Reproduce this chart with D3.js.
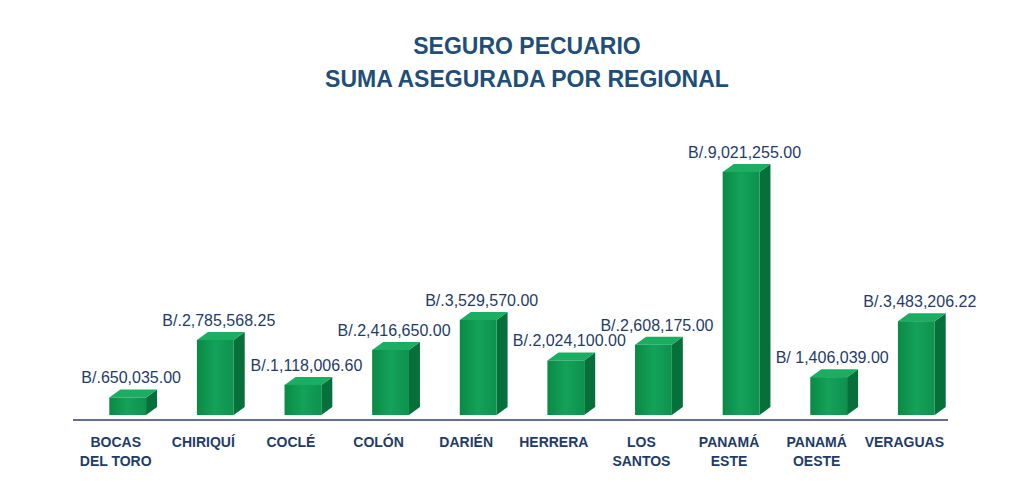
<!DOCTYPE html>
<html lang="es">
<head>
<meta charset="UTF-8">
<title>Seguro Pecuario - Suma asegurada por regional</title>
<script src="https://d3js.org/d3.v7.min.js"></script>
<style>
    body { margin: 0; background: #fff; }
    svg { display: block; }
    .title { font-family: "Liberation Sans Narrow", "Arial Narrow", Arial, sans-serif; font-weight: bold; fill: #1f4e79; }
    .val { font-family: "Liberation Sans Narrow", "Arial Narrow", Arial, sans-serif; fill: #1f3c68; }
    .cat { font-family: "Liberation Sans Narrow", "Arial Narrow", Arial, sans-serif; font-weight: bold; fill: #1f3c68; }
</style>
</head>
<body>
<svg id="chart" width="1031" height="482"></svg>
<script>
    const categories = [
        ["BOCAS", "DEL TORO"], ["CHIRIQUÍ"], ["COCLÉ"], ["COLÓN"], ["DARIÉN"],
        ["HERRERA"], ["LOS", "SANTOS"], ["PANAMÁ", "ESTE"], ["PANAMÁ", "OESTE"], ["VERAGUAS"]
    ];
    const values = [650035.00, 2785568.25, 1118006.60, 2416650.00, 3529570.00,
        2024100.00, 2608175.00, 9021255.00, 1406039.00, 3483206.22];
    const valueLabels = ["B/.650,035.00", "B/.2,785,568.25", "B/.1,118,006.60", "B/.2,416,650.00",
        "B/.3,529,570.00", "B/.2,024,100.00", "B/.2,608,175.00", "B/.9,021,255.00",
        "B/ 1,406,039.00", "B/.3,483,206.22"];

    const svg = d3.select("#chart");
    const margin = { left: 83, right: 70, top: 172, bottom: 415 };
    const depthX = 11, depthY = 8;

    const x = d3.scaleBand()
        .domain(d3.range(categories.length))
        .range([margin.left, 1031 - margin.right])
        .paddingInner(0.58)
        .paddingOuter(0.3);
    const y = d3.scaleLinear()
        .domain([0, 9021255])
        .range([margin.bottom, margin.top]);

    // title
    svg.append("text").attr("class", "title")
        .attr("x", 527).attr("y", 54).attr("text-anchor", "middle")
        .attr("font-size", 23).text("SEGURO PECUARIO");
    svg.append("text").attr("class", "title")
        .attr("x", 527).attr("y", 87).attr("text-anchor", "middle")
        .attr("font-size", 23).text("SUMA ASEGURADA POR REGIONAL");

    const defs = svg.append("defs");
    const grad = defs.append("linearGradient").attr("id", "front")
        .attr("x1", 0).attr("x2", 1).attr("y1", 0).attr("y2", 0);
    grad.append("stop").attr("offset", 0).attr("stop-color", "#0a8a44");
    grad.append("stop").attr("offset", 0.5).attr("stop-color", "#14a259");
    grad.append("stop").attr("offset", 1).attr("stop-color", "#0d924e");

    // baseline
    svg.append("line")
        .attr("x1", 73).attr("x2", 948)
        .attr("y1", 420).attr("y2", 420)
        .attr("stroke", "#2e4173").attr("stroke-width", 1.5);

    const bars = svg.append("g").selectAll("g")
        .data(values)
        .join("g");

    // side face
    bars.append("path")
        .attr("fill", "#06703a")
        .attr("d", (d, i) => {
            const x1 = x(i) + x.bandwidth(), t = y(d), b = y(0);
            return `M${x1},${t}L${x1 + depthX},${t - depthY}L${x1 + depthX},${b - depthY}L${x1},${b}Z`;
        });
    // top face
    bars.append("path")
        .attr("fill", "#1bae62")
        .attr("d", (d, i) => {
            const x0 = x(i), x1 = x0 + x.bandwidth(), t = y(d);
            return `M${x0},${t}L${x0 + depthX},${t - depthY}L${x1 + depthX},${t - depthY}L${x1},${t}Z`;
        });
    // front face
    bars.append("rect")
        .attr("fill", "url(#front)")
        .attr("x", (d, i) => x(i))
        .attr("y", d => y(d))
        .attr("width", x.bandwidth())
        .attr("height", d => y(0) - y(d));

    // value labels
    svg.append("g").selectAll("text")
        .data(values)
        .join("text")
        .attr("class", "val")
        .attr("x", (d, i) => x(i) + x.bandwidth() / 2 + depthX / 2 - 2)
        .attr("y", d => y(d) - depthY - 6)
        .attr("text-anchor", "middle")
        .attr("font-size", 16)
        .text((d, i) => valueLabels[i]);

    // category labels
    const cats = svg.append("g").selectAll("text")
        .data(categories)
        .join("text")
        .attr("class", "cat")
        .attr("text-anchor", "middle")
        .attr("font-size", 14)
        .attr("y", 447);
    cats.selectAll("tspan")
        .data((d, i) => d.map(s => ({ s, i })))
        .join("tspan")
        .attr("x", d => x(d.i) + x.bandwidth() / 2 - 12)
        .attr("dy", (d, j) => j === 0 ? 0 : 19)
        .text(d => d.s);
</script>
</body>
</html>
